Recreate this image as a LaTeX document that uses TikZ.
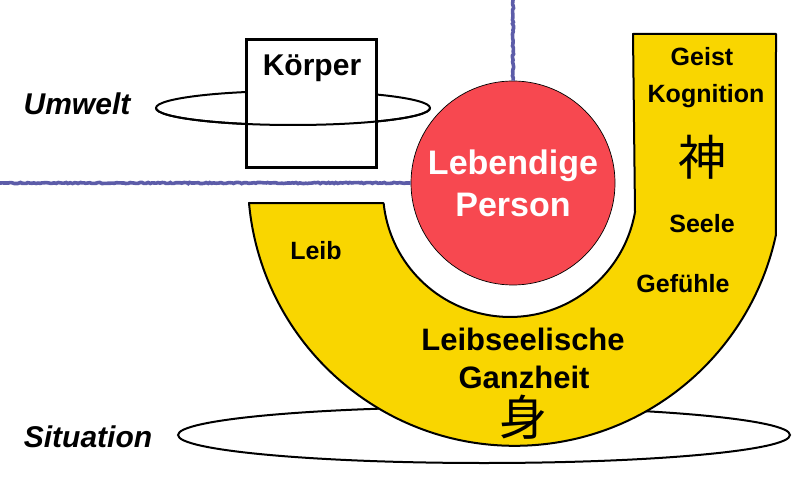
\documentclass[tikz,border=0pt]{standalone}
\usepackage{fontspec}
\setmainfont{Liberation Sans}
\newfontfamily\cjk{Noto Sans CJK JP}
\usepackage{tikz}
\usetikzlibrary{decorations.pathmorphing}
\definecolor{axisblue}{RGB}{92,92,168}
\definecolor{ganzgelb}{RGB}{249,214,0}
\definecolor{personrot}{RGB}{247,72,80}

\begin{document}
\begin{tikzpicture}[x=1pt, y=-1pt,
  ring/.style={draw=black, line width=2pt},
  achse/.style={draw=axisblue, line width=3.6pt, decorate,
    decoration={random steps, segment length=2pt, amplitude=0.6pt}},
  aspekt/.style={anchor=base, inner sep=0pt, font=\fontsize{25}{30}\selectfont\bfseries},
  ganz/.style={anchor=base, inner sep=0pt, font=\fontsize{31}{38}\selectfont\bfseries},
  ebene/.style={anchor=base, inner sep=0pt, font=\fontsize{30}{36}\selectfont\bfseries\itshape},
  zeichen/.style={inner sep=0pt, font=\cjk\fontsize{48}{48}\selectfont}]
\useasboundingbox (0,0) rectangle (794,478);

% Situation ring, behind the U
\draw[ring] (484,435) ellipse[x radius=306, y radius=28];

% leibseelische Ganzheit (U)
\draw[fill=ganzgelb, line width=2pt, line join=round]
  (249,203) arc[start angle=174.8, end angle=12.2, radius=267]
  -- (776,34) -- (633,34) -- (635,212)
  arc[start angle=10, end angle=174, radius=127] -- cycle;

% Umwelt ring round the box
\draw[ring] (293,108) ellipse[x radius=137, y radius=17];
\node[draw, line width=3pt, fill=white, minimum width=130pt,
  minimum height=128pt, inner sep=0pt] (koerperbox) at (311.5,103.5) {};
\draw[ring] (430,108) arc[start angle=0, end angle=180, x radius=137, y radius=17];

% Person
\node[circle, fill=personrot, draw=black, line width=0.7pt, minimum size=204pt,
  inner sep=0pt, align=center, text=white,
  font=\fontsize{34}{42}\selectfont\bfseries] (person) at (513,183)
  {Lebendige\\Person};

% Achsen
\coordinate (links) at (0,183);
\coordinate (oben) at (513,0);
\draw[achse] (links) -- (person.west);
\draw[achse] (oben) -- (person.north);

% Texte
\node[ebene] (umwelt) at (77,115) {Umwelt};
\node[ebene] (situation) at (88,447) {Situation};
\node[anchor=base, inner sep=0pt, font=\fontsize{30}{36}\selectfont\bfseries]
  (koerper) at (312,76) {Körper};
\node[aspekt] (geist) at (702,66) {Geist};
\node[aspekt] (kognition) at (706,103) {Kognition};
\node[zeichen] (shen) at (702,157) {神};
\node[aspekt] (seele) at (702,233) {Seele};
\node[aspekt] (gefuehle) at (683,292) {Gefühle};
\node[aspekt] (leib) at (316,259) {Leib};
\node[ganz] (leibseelisch) at (523,350) {Leibseelische};
\node[ganz] (ganzheit) at (524,388) {Ganzheit};
\node[zeichen] (shin) at (523,417) {身};
\end{tikzpicture}
\end{document}
